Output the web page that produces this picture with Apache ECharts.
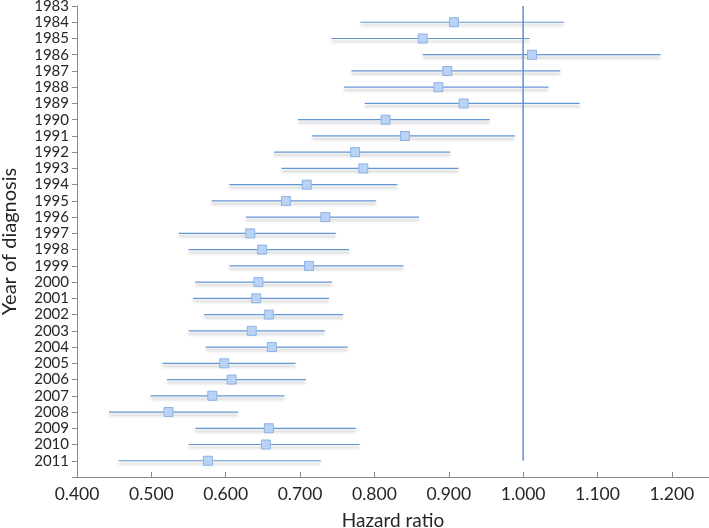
<!DOCTYPE html>
<html>
<head>
<meta charset="utf-8">
<script src="https://cdn.jsdelivr.net/npm/echarts@6/dist/echarts.min.js"></script>
<style>html,body{margin:0;padding:0;background:#fff}#c{width:709px;height:528px}</style>
</head>
<body>
<div id="c"></div>
<script>
var years = [1983,1984,1985,1986,1987,1988,1989,1990,1991,1992,1993,1994,1995,1996,1997,1998,1999,2000,2001,2002,2003,2004,2005,2006,2007,2008,2009,2010,2011];
var hr    = [null,0.907,0.865,1.012,0.898,0.886,0.920,0.815,0.841,0.774,0.785,0.709,0.681,0.734,0.633,0.649,0.712,0.644,0.641,0.658,0.635,0.662,0.598,0.608,0.582,0.523,0.658,0.654,0.576];
var lower = [null,0.781,0.742,0.865,0.769,0.759,0.787,0.697,0.716,0.665,0.675,0.605,0.581,0.627,0.537,0.550,0.605,0.559,0.556,0.571,0.550,0.573,0.515,0.521,0.499,0.443,0.559,0.550,0.456];
var upper = [null,1.055,1.009,1.185,1.050,1.034,1.076,0.955,0.989,0.902,0.913,0.831,0.802,0.860,0.748,0.766,0.839,0.743,0.739,0.758,0.733,0.764,0.694,0.708,0.679,0.617,0.775,0.780,0.728];
var refValue = 1.0;
var xTicks = { min: 0.4, max: 1.25, interval: 0.1 };

var barData = [], pointData = [];
for (var i = 0; i < years.length; i++) {
  if (hr[i] == null) continue;
  barData.push([lower[i], upper[i], years[i]]);
  pointData.push([hr[i], years[i]]);
}

var chart = echarts.init(document.getElementById('c'));
var font = 'Lato, "Open Sans", sans-serif';
chart.setOption({
  animation: false,
  grid: { left: 77, right: 0, top: 6, bottom: 51, containLabel: false, outerBoundsMode: 'none' },
  xAxis: {
    type: 'value', min: xTicks.min, max: xTicks.max, interval: xTicks.interval,
    name: 'Hazard ratio', nameLocation: 'middle', nameGap: 34,
    nameTextStyle: { fontFamily: font, fontSize: 19, color: '#262626' },
    axisLine: { show: true, onZero: false, lineStyle: { color: '#8c8c8c', width: 1 } },
    axisTick: { show: true, inside: true, length: 5, lineStyle: { color: '#8c8c8c' } },
    axisLabel: { fontFamily: font, fontSize: 17.5, color: '#262626', margin: 8, showMaxLabel: false,
      formatter: function (v) { return v.toFixed(3); } },
    splitLine: { show: false }
  },
  yAxis: {
    type: 'value', min: years[0], max: years[years.length - 1] + 1, interval: 1, inverse: true,
    name: 'Year of diagnosis', nameLocation: 'middle', nameGap: 57,
    nameTextStyle: { fontFamily: font, fontSize: 20, color: '#262626' },
    axisLine: { show: true, lineStyle: { color: '#8c8c8c', width: 1 } },
    axisTick: { show: true, length: 5, lineStyle: { color: '#8c8c8c' } },
    axisLabel: { fontFamily: font, fontSize: 15, color: '#262626', margin: 8,
      formatter: function (v) { return years.indexOf(v) >= 0 ? String(v) : ''; } },
    splitLine: { show: false }
  },
  series: [
    {
      type: 'custom',
      data: barData,
      encode: { x: [0, 1], y: 2 },
      renderItem: function (params, api) {
        var a = api.coord([api.value(0), api.value(2)]);
        var b = api.coord([api.value(1), api.value(2)]);
        return {
          type: 'line',
          shape: { x1: a[0], y1: a[1], x2: b[0], y2: b[1] },
          style: { stroke: '#6496d6', lineWidth: 1.2,
            shadowColor: 'rgba(0,0,0,0.3)', shadowBlur: 3, shadowOffsetY: 3 }
        };
      },
      z: 2
    },
    {
      type: 'line',
      data: [[refValue, years[0]], [refValue, years[years.length - 1]]],
      symbol: 'none',
      lineStyle: { color: '#6a95d2', width: 1.6 },
      z: 3
    },
    {
      type: 'scatter',
      data: pointData,
      symbol: 'rect', symbolSize: 9,
      itemStyle: { color: '#b9d3f5', borderColor: '#8db2e6', borderWidth: 1, opacity: 1 },
      z: 4
    }
  ]
});
</script>
</body>
</html>
